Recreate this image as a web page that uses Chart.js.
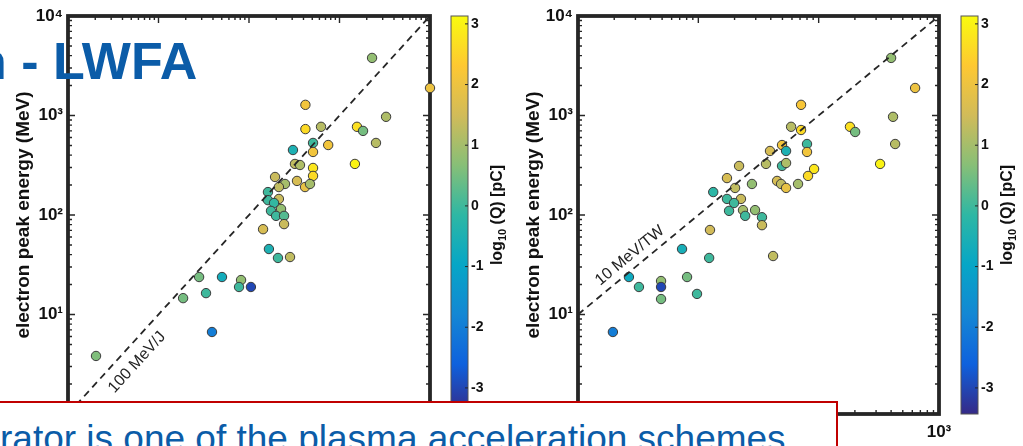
<!DOCTYPE html>
<html>
<head>
<meta charset="utf-8">
<script src="https://cdn.jsdelivr.net/npm/chart.js@4.4.1/dist/chart.umd.min.js"></script>
<style>
  html, body { margin: 0; padding: 0; background: #fff; }
  body { width: 1023px; height: 446px; position: relative; overflow: hidden; font-family: "Liberation Sans", Arial, sans-serif; }
  canvas { position: absolute; top: 0; }
  #energyPanel { left: 0; }
  #powerPanel { left: 510px; }
  #slideTitle { position: absolute; left: -25px; top: 35px; font: bold 52px/52px "Liberation Sans", Arial, sans-serif; color: #0b5ca8; white-space: nowrap; }
  #noteBox { position: absolute; left: -4px; top: 401px; width: 842px; height: 70px; box-sizing: border-box; border: 2px solid #c00000; background: #fff; }
  #noteText { position: absolute; left: 0px; top: 420px; font: 37px/37px "Liberation Sans", Arial, sans-serif; color: #0b5ca8; white-space: nowrap; }
</style>
</head>
<body>
<canvas id="energyPanel" width="510" height="446"></canvas>
<canvas id="powerPanel" width="513" height="446"></canvas>
<div id="slideTitle">n - LWFA</div>
<div id="noteBox"></div>
<div id="noteText">rator is one of the plasma acceleration schemes</div>
<script>
// left panel: laser energy (J) vs electron peak energy (MeV), colour = log10 charge (pC)
const laserEnergyJ = [22.9, 100, 4.2, 32.7, 4.2, 6.25, 15.6, 18.2, 7.5, 25.3, 5.1, 3.06, 5.1, 14.8, 3.22, 3.66,
  5.1, 5.1, 1.94, 3.39, 2.5, 2.14, 4.16, 4.72, 1.62, 1.62, 2.14, 1.89, 2.26, 1.75, 1.99, 2.44, 2.44, 1.43,
  1.66, 2.09, 2.84, 0.503, 0.817, 0.281, 0.776, 1.05, 0.335, 0.187, 0.0204, 0.39];
const peakEnergyA = [3790, 1890, 1280, 970, 730, 770, 770, 700, 505, 530, 530, 450, 430, 326, 326, 318,
  297, 247, 241, 220, 205, 191, 191, 205, 170, 141, 145, 132, 115, 110, 98, 98, 81, 72,
  45.5, 37, 37.8, 23.8, 22.2, 23.8, 18.9, 18.9, 16.4, 14.6, 3.83, 6.67];
const chargeLogA = [0.8, 2.0, 2.1, 1.1, 2.6, 1.2, 2.7, 0.5, 2.1, 1.2, 0.0, -0.5, 2.1, 3.0, 1.3, 1.1,
  2.8, 2.6, 1.4, 1.6, 1.0, 1.3, 1.9, 1.0, 0.0, 0.0, 1.4, -0.1, 0.8, 0.0, 0.0, 0.2, 1.4, 1.6,
  -0.5, 0.0, 1.3, -0.7, 0.8, 0.5, 0.0, -3.0, 0.0, 0.5, 0.6, -2.0];

// right panel: laser power (TW) vs electron peak energy (MeV)
const laserPowerTW = [400, 633, 71.4, 415, 59, 71.4, 182, 201, 80, 80, 49.6, 53.6, 39.4, 432, 21.8, 36.5,
  49.6, 53.6, 324, 91.6, 81.6, 17.3, 45.1, 48.7, 53.6, 67.4, 27.9, 13.3, 20.2, 17.3, 22.6, 19.8, 18.0,
  23.5, 24.5, 29.6, 33.8, 33.8, 12.5, 7.32, 12.3, 41.8, 2.65, 4.9, 4.9, 3.21, 8.06, 9.75, 4.9, 1.95];
const peakEnergyB = [3790, 1890, 1280, 970, 770, 715, 770, 683, 517, 430, 505, 440, 440, 517, 311, 326,
  311, 333, 326, 290, 247, 235, 220, 205, 187, 205, 205, 170, 187, 145, 145, 132, 110,
  112, 98, 112, 95, 79, 70.7, 45.5, 37, 38.7, 23.8, 21.7, 18.9, 18.9, 23.8, 16.1, 14.3, 6.67];
const chargeLogB = [0.8, 2.0, 2.2, 1.1, 1.2, 2.6, 2.7, 0.5, 0.0, 2.1, 2.1, -0.5, 1.6, 1.2, 1.4, 1.2,
  0.0, 1.1, 3.0, 2.8, 2.6, 1.6, 1.6, 1.3, 1.9, 1.0, 0.8, -0.2, 1.3, 0.0, 1.4, 0.0, 0.0,
  1.0, 0.0, 0.8, 0.0, 1.4, 1.5, -0.6, 0.0, 1.3, -0.8, 0.8, -3.0, 0.0, 0.5, 0.0, 0.5, -2.0];

// axes
const yTickVals = [1, 10, 100, 1000, 10000];
const xTickValsA = [0.01, 0.1, 1, 10, 100];
const xTickValsB = [1, 10, 100, 1000];
const qTicks = [-3, -2, -1, 0, 1, 2, 3];
const qRange = [-3.43, 3.13];

// dashed guide lines
const guideAx = [0.01, 100], guideAy = [1, 10000];   // 100 MeV/J
const guideBx = [1, 1000], guideBy = [10, 10000];     // 10 MeV/TW

const ink = '#262626';
const family = '"Liberation Sans", Arial, sans-serif';
const parula = [[53, 42, 135], [15, 97, 221], [20, 135, 212], [6, 166, 198], [46, 183, 164],
  [135, 191, 119], [209, 187, 89], [254, 200, 50], [249, 251, 14]];

function parulaAt(q) {
  let t = (q - qRange[0]) / (qRange[1] - qRange[0]);
  t = Math.min(1, Math.max(0, t)) * (parula.length - 1);
  const i = Math.min(parula.length - 2, Math.floor(t)), f = t - i;
  const c = parula[i].map((v, k) => Math.round(v + (parula[i + 1][k] - v) * f));
  return `rgb(${c[0]},${c[1]},${c[2]})`;
}

const supDigits = { '-': '⁻', '0': '⁰', '1': '¹', '2': '²', '3': '³', '4': '⁴', '5': '⁵' };
function powLabel(v) {
  const e = Math.round(Math.log10(v));
  return '10' + String(e).split('').map(c => supDigits[c]).join('');
}

function logSteps(scale) {
  const out = [];
  const lo = Math.round(Math.log10(scale.min)), hi = Math.round(Math.log10(scale.max));
  for (let e = lo; e < hi; e++)
    for (let m = 1; m < 10; m++) out.push([m * Math.pow(10, e), m === 1]);
  out.push([scale.max, true]);
  return out;
}

const matlabFrame = {
  id: 'matlabFrame',
  beforeDatasetsDraw(chart) {
    const { ctx, chartArea: a, scales: { x, y } } = chart;
    ctx.save();
    ctx.strokeStyle = ink;
    ctx.lineWidth = 1.4;
    ctx.beginPath();
    logSteps(x).forEach(([v, major]) => {
      const px = x.getPixelForValue(v), len = major ? 7 : 4;
      ctx.moveTo(px, a.bottom); ctx.lineTo(px, a.bottom - len);
      ctx.moveTo(px, a.top); ctx.lineTo(px, a.top + len);
    });
    logSteps(y).forEach(([v, major]) => {
      const py = y.getPixelForValue(v), len = major ? 7 : 4;
      ctx.moveTo(a.left, py); ctx.lineTo(a.left + len, py);
      ctx.moveTo(a.right, py); ctx.lineTo(a.right - len, py);
    });
    ctx.stroke();
    ctx.lineWidth = 3.8;
    ctx.strokeRect(a.left, a.top, a.right - a.left, a.bottom - a.top);
    ctx.restore();
  },
  afterDraw(chart, args, opts) {
    const { ctx, scales: { x, y, q } } = chart;
    ctx.save();

    // colour bar
    const top = q.getPixelForValue(q.max), bot = q.getPixelForValue(q.min);
    const g = ctx.createLinearGradient(0, bot, 0, top);
    parula.forEach((c, i) => g.addColorStop(i / (parula.length - 1), `rgb(${c[0]},${c[1]},${c[2]})`));
    ctx.fillStyle = g;
    ctx.fillRect(opts.cbX, top, opts.cbW, bot - top);
    ctx.strokeStyle = '#555';
    ctx.lineWidth = 1;
    ctx.strokeRect(opts.cbX, top, opts.cbW, bot - top);
    ctx.fillStyle = '#111';
    ctx.font = `bold 14px ${family}`;
    ctx.textAlign = 'left';
    ctx.textBaseline = 'middle';
    ctx.strokeStyle = ink;
    ctx.beginPath();
    qTicks.forEach(v => {
      const py = q.getPixelForValue(v);
      ctx.moveTo(opts.cbX + opts.cbW, py); ctx.lineTo(opts.cbX + opts.cbW - 3, py);
      ctx.fillText(String(v), opts.cbX + opts.cbW + 3, py);
    });
    ctx.stroke();

    // colour bar title: log10 (Q) [pC]
    ctx.save();
    ctx.translate(opts.cbTitleX, (top + bot) / 2);
    ctx.rotate(-Math.PI / 2);
    ctx.textBaseline = 'alphabetic';
    const big = `bold 16px ${family}`, small = `bold 11px ${family}`;
    ctx.font = big; const w1 = ctx.measureText('log').width, w3 = ctx.measureText(' (Q) [pC]').width;
    ctx.font = small; const w2 = ctx.measureText('10').width;
    let cx = -(w1 + w2 + w3) / 2;
    ctx.font = big; ctx.fillText('log', cx, 5); cx += w1;
    ctx.font = small; ctx.fillText('10', cx, 9); cx += w2;
    ctx.font = big; ctx.fillText(' (Q) [pC]', cx, 5);
    ctx.restore();

    // guide line label along the dashed line
    const line = chart.data.datasets[0].data;
    const x0 = x.getPixelForValue(line[0].x), y0 = y.getPixelForValue(line[0].y);
    const x1 = x.getPixelForValue(line[1].x), y1 = y.getPixelForValue(line[1].y);
    ctx.translate(x.getPixelForValue(opts.labelAt[0]), y.getPixelForValue(opts.labelAt[1]));
    ctx.rotate(Math.atan2(y1 - y0, x1 - x0));
    ctx.font = `16px ${family}`;
    ctx.fillStyle = '#222';
    ctx.textAlign = 'center';
    ctx.fillText(opts.label, 0, 0);
    ctx.restore();
  }
};

function buildPanel(id, xs, ys, qs, xTicks, gx, gy, label, labelAt, padRight) {
  const pts = xs.map((v, i) => ({ x: v, y: ys[i] }));
  const tickFont = { family, size: 17, weight: 'bold' };
  return new Chart(document.getElementById(id), {
    type: 'scatter',
    data: {
      datasets: [
        {
          data: gx.map((v, i) => ({ x: v, y: gy[i] })),
          showLine: true, borderColor: ink, borderWidth: 1.8, borderDash: [7, 5],
          pointRadius: 0, order: 0
        },
        {
          data: pts, backgroundColor: qs.map(parulaAt), borderColor: '#3a3a3a',
          borderWidth: 1, pointRadius: 4.7, order: 1, clip: false
        }
      ]
    },
    options: {
      responsive: false,
      animation: false,
      events: [],
      layout: { padding: { left: 0, top: 16, right: padRight, bottom: 0 } },
      plugins: {
        legend: { display: false },
        tooltip: { enabled: false },
        matlabFrame: { cbX: 451, cbW: 17, cbTitleX: 497, label, labelAt }
      },
      scales: {
        x: {
          type: 'logarithmic', min: xTicks[0], max: xTicks[xTicks.length - 1],
          grid: { display: false, drawTicks: false }, border: { display: false },
          afterBuildTicks: s => { s.ticks = xTicks.map(value => ({ value })); },
          afterFit: s => { s.height = 32; s.paddingLeft = 0; s.paddingRight = 0; },
          ticks: { autoSkip: false, maxRotation: 0, padding: 8, color: '#111', font: tickFont, callback: v => powLabel(v) }
        },
        y: {
          type: 'logarithmic', min: yTickVals[0], max: yTickVals[yTickVals.length - 1],
          grid: { display: false, drawTicks: false }, border: { display: false },
          afterBuildTicks: s => { s.ticks = yTickVals.map(value => ({ value })); },
          afterFit: s => { s.width = 68; s.paddingTop = 0; s.paddingBottom = 0; },
          ticks: { autoSkip: false, padding: 5, color: '#111', font: tickFont, callback: v => powLabel(v) },
          title: {
            display: true, text: 'electron peak energy (MeV)', color: '#111',
            font: { family, size: 19, weight: 'bold' }, padding: { top: 12.6, bottom: 0 }
          }
        },
        q: { type: 'linear', position: 'right', display: false, min: qRange[0], max: qRange[1] }
      }
    },
    plugins: [matlabFrame]
  });
}

buildPanel('energyPanel', laserEnergyJ, peakEnergyA, chargeLogA, xTickValsA, guideAx, guideAy,
  '100 MeV/J', [0.058, 3.3], 80);
buildPanel('powerPanel', laserPowerTW, peakEnergyB, chargeLogB, xTickValsB, guideBx, guideBy,
  '10 MeV/TW', [2.7, 39], 84);
</script>
</body>
</html>
